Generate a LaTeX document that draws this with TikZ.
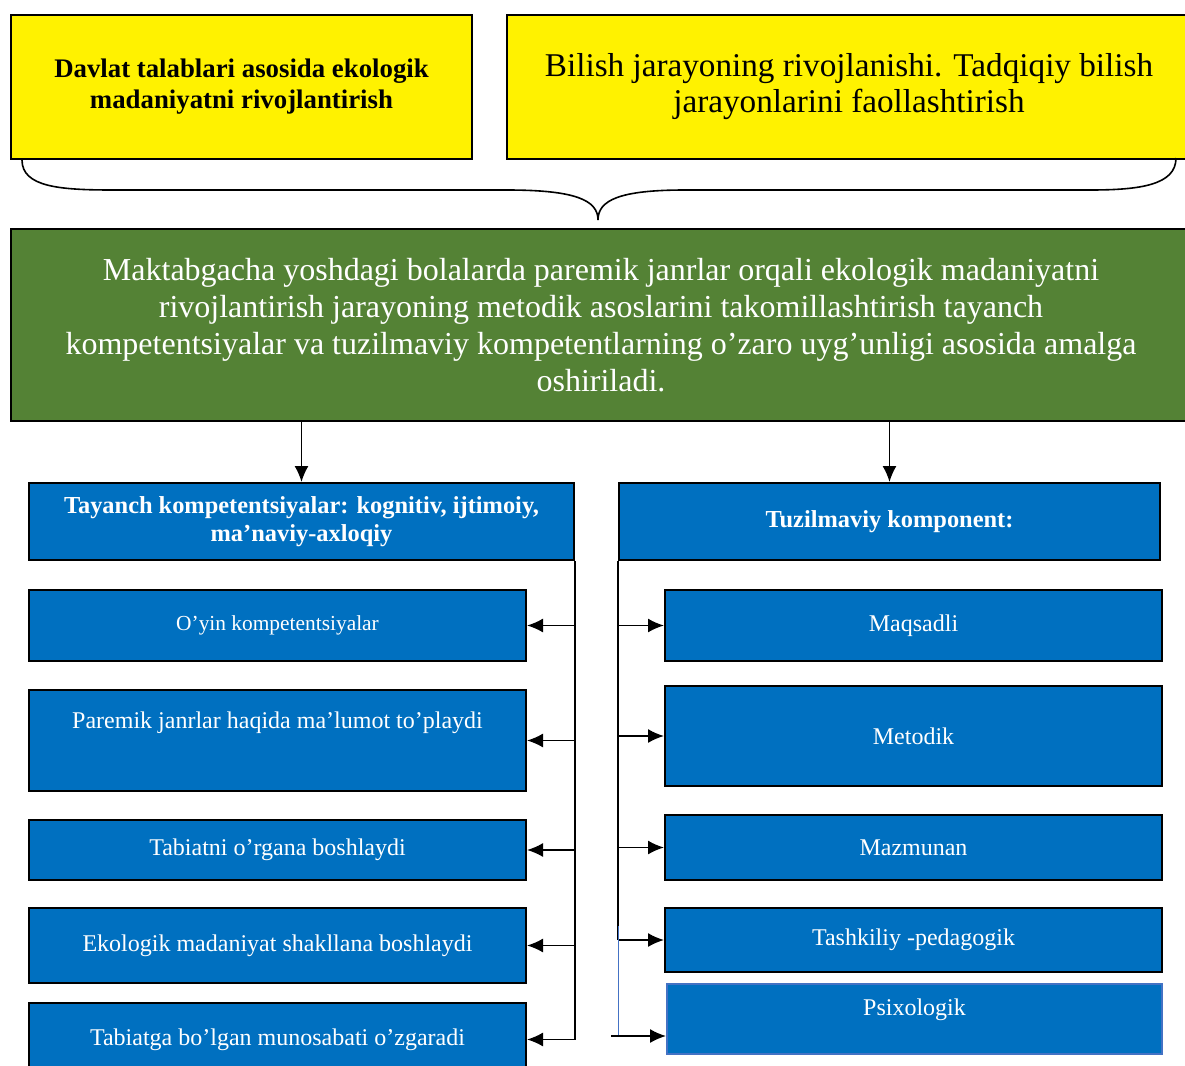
\documentclass[tikz,border=0pt]{standalone}
\usepackage{fontspec}
\setmainfont{Liberation Serif}
\usetikzlibrary{calc,arrows.meta,positioning}
\definecolor{boxblue}{RGB}{0,112,192}
\definecolor{leaf}{RGB}{84,130,53}
\definecolor{edgeblue}{RGB}{68,114,196}

\begin{document}
\begin{tikzpicture}[x=0.5pt, y=-0.5pt,
      every node/.style={draw, line width=1pt, inner sep=2pt, align=center, anchor=north west},
      yel/.style={fill=yellow},
      blu/.style={fill=boxblue, text=white, minimum width=248.5pt},
      arr/.style={-{Latex[length=8pt,width=7pt]}, line width=0.8pt}]
    \useasboundingbox (0,0) rectangle (1185,1066);
    \clip (0,0) rectangle (1185,1066);
    \node[yel, minimum width=230.5pt, minimum height=72pt, font=\fontsize{13.4}{15.5}\selectfont\bfseries] (D) at (10,14)
      {Davlat talablari asosida ekologik\\ madaniyatni rivojlantirish};
    \node[yel, minimum width=342pt, minimum height=72pt, font=\fontsize{16.6}{18}\selectfont] (B) at (506,14)
      {Bilish jarayoning rivojlanishi. Tadqiqiy bilish\\ jarayonlarini faollashtirish};
    \node[fill=leaf, text=white, minimum width=590pt, minimum height=96pt, font=\fontsize{16}{18.5}\selectfont] (M) at (10,228)
      {Maktabgacha yoshdagi bolalarda paremik janrlar orqali ekologik madaniyatni\\
       rivojlantirish jarayoning metodik asoslarini takomillashtirish tayanch\\
       kompetentsiyalar va tuzilmaviy kompetentlarning o’zaro uyg’unligi asosida amalga\\
       oshiriladi.};
    \draw[line width=0.8pt] ($(D.south west)+(12,0)$) .. controls +(0,27) and (60,190) .. (113,190) -- (507,190)
      .. controls (575,190) and (598,200) .. (598,220)
      .. controls (598,200) and (620,190) .. (685,190) -- (1090,190)
      .. controls (1140,190) and (1176,185) .. (1176,158);
    \node[blu, minimum width=272.5pt, minimum height=38.5pt, font=\fontsize{12.2}{14}\selectfont\bfseries] (T) at (28,482)
      {Tayanch kompetentsiyalar: kognitiv, ijtimoiy,\\ ma’naviy-axloqiy};
    \node[blu, minimum width=270.5pt, minimum height=38.5pt, font=\fontsize{12.2}{14}\selectfont\bfseries] (K) at (618,482)
      {Tuzilmaviy komponent:};
    \draw[arr] (M.south -| T.north) -- (T.north);
    \draw[arr] (M.south -| K.north) -- (K.north);

    \begin{scope}[every node/.append style={font=\fontsize{12}{14}\selectfont}]
      \node[blu, minimum height=35.5pt, font=\fontsize{10.7}{12}\selectfont] (L1) at (28,589) {O’yin kompetentsiyalar};
      \node[blu, minimum height=50.5pt, text depth=20pt] (L2) at (28,689) {Paremik janrlar haqida ma’lumot to’playdi};
      \node[blu, minimum height=30pt] (L3) at (28,819) {Tabiatni o’rgana boshlaydi};
      \node[blu, minimum height=37.5pt] (L4) at (28,907) {Ekologik madaniyat shakllana boshlaydi};
      \node[blu, minimum height=36.5pt] (L5) at (28,1002) {Tabiatga bo’lgan munosabati o’zgaradi};
      \node[blu, minimum height=35.5pt] (R1) at (664,589) {Maqsadli};
      \node[blu, minimum height=50pt] (R2) at (664,685) {Metodik};
      \node[blu, minimum height=32.5pt] (R3) at (664,814) {Mazmunan};
      \node[blu, minimum height=32pt] (R4) at (664,907) {Tashkiliy -pedagogik};
      \node[blu, draw=edgeblue, minimum width=247.5pt, minimum height=35pt, text depth=12pt] (R5) at (666,983) {Psixologik};
    \end{scope}

    \draw[line width=0.8pt] (T.south east) -- (T.south east |- L5.east);
    \foreach \b in {L1,L2,L3,L4,L5}
      \draw[arr] (T.south east |- \b.east) -- (\b.east);
    \draw[line width=0.8pt] (K.south west) -- (K.south west |- R4.west);
    \foreach \b in {R1,R2,R3,R4}
      \draw[arr] (K.south west |- \b.west) -- (\b.west);
    \coordinate (P) at ([yshift=-8.5pt]R5.west);
    \draw[edgeblue, line width=0.4pt] ([yshift=7pt]K.south west |- R4.west) -- (K.south west |- P);
    \draw[arr] ([xshift=-3.5pt]K.south west |- P) -- (P);
  \end{tikzpicture}
\end{document}
